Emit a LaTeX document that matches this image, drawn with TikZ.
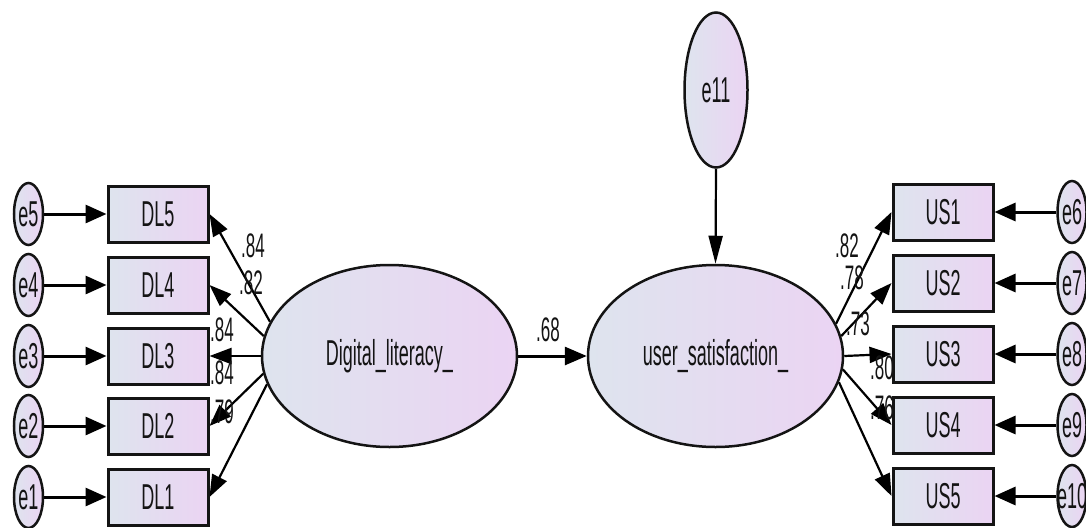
\documentclass[tikz,border=0pt]{standalone}
\usepackage{fontspec}
\setmainfont{Liberation Sans}[FakeStretch=0.5]
\usetikzlibrary{shapes.geometric,arrows.meta,backgrounds}
\definecolor{gl}{RGB}{222,228,238}
\definecolor{gr}{RGB}{235,212,243}
\definecolor{ink}{RGB}{20,20,20}
\begin{document}
\begin{tikzpicture}[x=1pt,y=-1pt,
  font=\fontsize{36}{40}\selectfont,
  grad/.style={left color=gl,right color=gr},
  obs/.style={draw=ink,line width=3pt,grad,minimum width=100pt,minimum height=56pt,inner sep=0pt,text=ink},
  lat/.style={draw=ink,line width=2.5pt,ellipse,grad,minimum width=255pt,minimum height=182pt,inner sep=0pt,text=ink},
  err/.style={draw=ink,line width=2.5pt,ellipse,grad,minimum width=29pt,minimum height=62pt,inner sep=0pt,text=ink},
  erra/.style={line width=3pt,-{Triangle[length=21pt,width=18pt]}},
  load/.style={line width=2.2pt,-{Triangle[length=22pt,width=16pt]}},
  coef/.style={inner sep=0pt,text=ink,font=\fontsize{34}{38}\selectfont}
]
\useasboundingbox (0,0) rectangle (1086,527);

% latent variables
\node[lat] (dl) at (389.5,356) {Digital\_literacy\_};
\node[lat] (us) at (715.5,356) {user\_satisfaction\_};
\node[err,minimum width=63pt,minimum height=155pt] (e11) at (716,90) {\makebox[0pt]{e11}};

% observed, left
\node[obs] (DL5) at (158,214) {DL5};
\node[obs] (DL4) at (158,285) {DL4};
\node[obs] (DL3) at (158,356) {DL3};
\node[obs] (DL2) at (158,426) {DL2};
\node[obs] (DL1) at (158,497) {DL1};
% observed, right
\node[obs] (US1) at (943,212) {US1};
\node[obs] (US2) at (943,283) {US2};
\node[obs] (US3) at (943,354) {US3};
\node[obs] (US4) at (943,425) {US4};
\node[obs] (US5) at (943,496) {US5};

% error terms
\node[err] (e5) at (28.5,214) {\makebox[0pt]{e5}};
\node[err] (e4) at (28.5,285) {\makebox[0pt]{e4}};
\node[err] (e3) at (28.5,356) {\makebox[0pt]{e3}};
\node[err] (e2) at (28.5,426) {\makebox[0pt]{e2}};
\node[err] (e1) at (28.5,497) {\makebox[0pt]{e1}};
\node[err] (e6) at (1072,212) {\makebox[0pt]{e6}};
\node[err] (e7) at (1072,283) {\makebox[0pt]{e7}};
\node[err] (e8) at (1072,354) {\makebox[0pt]{e8}};
\node[err] (e9) at (1072,425) {\makebox[0pt]{e9}};
\node[err] (e10) at (1072,496) {\makebox[0pt]{e10}};

\begin{pgfonlayer}{background}
  % error arrows
  \foreach \e/\b in {e5/DL5,e4/DL4,e3/DL3,e2/DL2,e1/DL1}
    \draw[erra] (\e.east) -- (\b.west);
  \foreach \e/\b in {e6/US1,e7/US2,e8/US3,e9/US4,e10/US5}
    \draw[erra] (\e.west) -- (\b.east);
  % loadings
  \draw[load] (dl.164) -- (DL5.east);
  \draw[load] (dl.171) -- (DL4.east);
  \draw[load] (dl.180) -- (DL3.east);
  \draw[load] (dl.188.5) -- (DL2.east);
  \draw[load] (dl.193.5) -- (DL1.east);
  \draw[load] (us.15) -- (US1.west);
  \draw[load] (us.9.6) -- (US2.west);
  \draw[load] (us.0) -- (US3.west);
  \draw[load] (us.-6.3) -- (US4.west);
  \draw[load] (us.-12.4) -- (US5.west);
  % structural
  \draw[line width=3pt,-{Triangle[length=22pt,width=18pt]}] (dl.east) -- (us.west);
  \draw[line width=2.2pt,-{Triangle[length=28pt,width=14pt]}] (e11.south) -- (us.north);
  % coefficients
  \node[coef] (c5) at (253,246) {.84};
  \node[coef] (c4) at (251,283) {.82};
  \node[coef] (c3) at (222,330) {.84};
  \node[coef] (c2) at (222,373) {.84};
  \node[coef] (c1) at (222,412) {.79};
  \node[coef] (c6) at (847,246) {.82};
  \node[coef] (c7) at (852,278) {.78};
  \node[coef] (c8) at (858,324) {.73};
  \node[coef] (c9) at (882,368) {.80};
  \node[coef] (c10) at (882,408) {.76};
  \node[coef] (c0) at (548,330) {.68};
\end{pgfonlayer}
\end{tikzpicture}
\end{document}
